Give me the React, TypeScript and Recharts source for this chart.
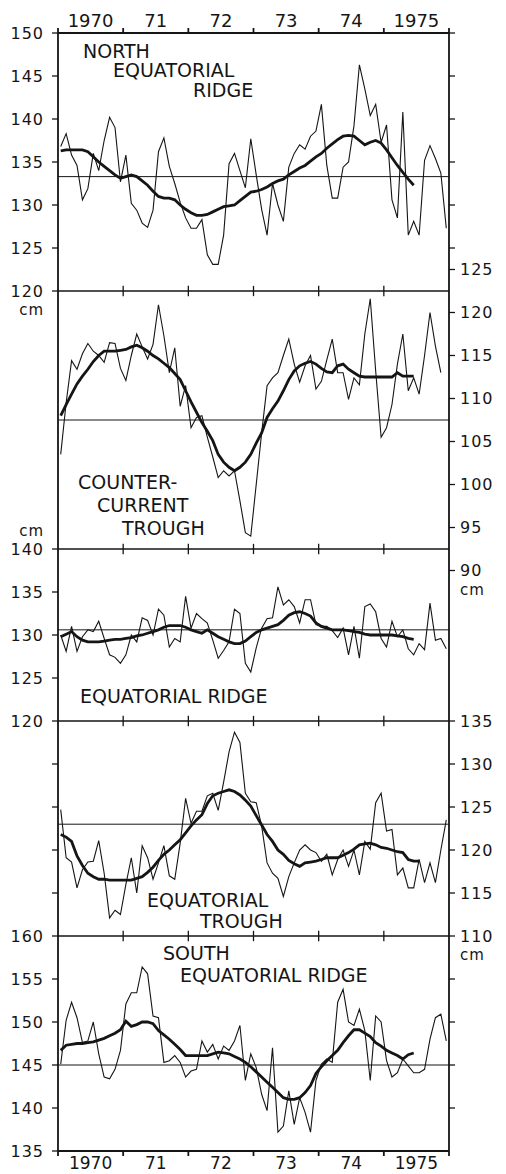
import React from 'react';
import { LineChart, Line, XAxis, YAxis, ReferenceLine } from 'recharts';

const W = 506;
const H = 1174;
const FONT = '"DejaVu Sans", Verdana, sans-serif';
const INK = '#151515';

// ---- time axis ----
const yearEdges = [1970, 1971, 1972, 1973, 1974, 1975, 1976];
const innerEdges = [1971, 1972, 1973, 1974, 1975];
const yearCenters = [1970.5, 1971.5, 1972.5, 1973.5, 1974.5, 1975.5];
const yearLabels = ['1970', '71', '72', '73', '74', '1975'];

// ---- North Equatorial Ridge (cm) ----
const nerMonthly = [
  136.8, 138.3, 135.8, 134.6, 130.6, 131.9, 136.0, 134.0, 137.5, 140.2, 139.0, 132.7,
  135.8, 130.2, 129.4, 127.9, 127.4, 129.4, 136.2, 137.8, 134.5, 132.5, 130.3, 128.5,
  127.3, 127.3, 128.3, 124.2, 123.1, 123.1, 126.5, 134.8, 136.0, 134.0, 132.0, 137.7,
  133.5, 129.5, 126.5, 132.5, 130.0, 128.1, 134.4, 136.0, 137.0, 136.5, 138.0, 138.6,
  141.7, 134.6, 130.8, 130.8, 134.4, 135.0, 139.2, 146.3, 143.5, 140.4, 141.7, 137.3,
  139.3, 130.6, 128.5, 140.8, 126.5, 128.1, 126.5, 135.2, 136.9, 135.4, 133.7, 127.3,
];
const nerSmooth = [
  136.3, 136.4, 136.4, 136.4, 136.4, 136.2, 135.6, 135.0, 134.5, 134.0, 133.5, 133.1,
  133.3, 133.5, 133.3, 132.8, 132.3, 131.6, 131.0, 130.8, 130.8, 130.6, 130.0, 129.5,
  129.1, 128.8, 128.8, 128.9, 129.2, 129.5, 129.8, 129.9, 130.0, 130.5, 131.0, 131.5,
  131.6, 131.8, 132.1, 132.5, 132.8, 133.0, 133.5, 133.9, 134.3, 134.6, 135.1, 135.6,
  136.0, 136.6, 137.1, 137.6, 138.0, 138.1, 138.0, 137.5, 137.0, 137.3, 137.5, 137.2,
  136.4, 135.5, 134.6, 133.8, 133.0, 132.3,
];

// ---- Countercurrent Trough (cm) ----
const cctMonthly = [
  103.5, 109.5, 114.4, 113.4, 115.2, 116.4, 115.5, 115.0, 114.2, 116.5, 116.4, 113.5,
  112.1, 115.0, 117.5, 116.0, 114.6, 116.3, 120.9, 117.3, 113.0, 115.9, 109.1, 111.5,
  106.6, 107.8, 108.0, 105.5, 103.2, 100.8, 101.6, 101.0, 101.6, 98.1, 94.4, 94.0,
  100.0, 106.0, 111.5, 112.4, 113.0, 115.0, 116.9, 114.0, 111.9, 113.8, 115.0, 111.1,
  112.0, 114.5, 116.9, 113.0, 113.0, 109.9, 112.4, 111.6, 117.5, 121.6, 113.2, 105.5,
  106.6, 109.3, 114.0, 117.5, 110.9, 112.4, 110.5, 115.0, 120.0, 116.1, 113.0, null,
];
const cctSmooth = [
  108.0, 109.3, 110.5, 111.7, 112.6, 113.4, 114.3, 115.0, 115.5, 115.5, 115.5, 115.6,
  115.7, 116.0, 116.2, 115.9, 115.5, 115.0, 114.6, 114.1, 113.6, 112.9, 112.2, 110.9,
  109.6, 108.4, 107.2, 106.2, 105.1, 103.5, 102.6, 102.0, 101.6, 102.0, 102.6, 103.5,
  104.8, 106.0, 107.8, 108.8, 109.7, 110.9, 112.2, 113.2, 113.8, 114.1, 114.3, 114.0,
  113.5, 113.1, 113.0, 113.8, 114.0, 113.4, 113.0, 112.6, 112.5, 112.5, 112.5, 112.5,
  112.5, 112.5, 113.0, 112.6, 112.6, 112.6,
];

// ---- Equatorial Ridge (cm) ----
const erMonthly = [
  130.0, 128.1, 131.0, 128.1, 129.8, 130.6, 130.4, 131.6, 129.6, 127.7, 127.4, 126.7,
  127.7, 130.0, 129.2, 132.0, 131.7, 130.0, 133.0, 132.3, 128.6, 129.6, 129.2, 134.5,
  130.8, 132.5, 131.9, 131.4, 129.4, 127.3, 128.2, 129.2, 133.0, 132.5, 126.7, 125.7,
  128.5, 130.8, 131.9, 132.0, 135.6, 133.5, 134.1, 133.3, 131.4, 134.1, 134.1, 131.2,
  131.0, 131.0, 130.5, 129.7, 130.8, 127.7, 131.0, 127.3, 133.3, 133.6, 132.7, 129.6,
  128.6, 131.6, 129.8, 130.6, 128.4, 127.7, 129.0, 128.3, 133.7, 129.4, 129.6, 128.4,
];
const erSmooth = [
  129.8, 130.1, 130.4, 129.8, 129.4, 129.2, 129.2, 129.2, 129.3, 129.4, 129.5, 129.5,
  129.6, 129.7, 129.9, 130.0, 130.2, 130.4, 130.6, 130.9, 131.1, 131.1, 131.1, 130.9,
  130.6, 130.4, 130.2, 130.6, 130.2, 129.8, 129.5, 129.2, 129.0, 129.0, 129.3, 129.8,
  130.3, 130.6, 130.8, 131.0, 131.2, 131.7, 132.3, 132.6, 132.7, 132.5, 132.2, 131.4,
  131.0, 130.8, 130.6, 130.6, 130.6, 130.5, 130.4, 130.3, 130.1, 130.0, 130.0, 130.0,
  130.0, 130.0, 129.9, 129.8, 129.6, 129.5,
];

// ---- Equatorial Trough (cm) ----
const etMonthly = [
  124.7, 119.1, 118.6, 115.6, 117.7, 118.6, 118.7, 121.1, 117.3, 112.1, 113.0, 112.5,
  116.0, 119.1, 115.0, 120.5, 119.1, 116.6, 118.5, 120.5, 117.0, 116.6, 120.8, 126.0,
  123.1, 124.5, 124.5, 126.3, 126.6, 124.6, 127.9, 131.4, 133.7, 132.5, 126.6, 125.6,
  125.5, 122.8, 118.5, 117.3, 116.7, 114.6, 116.9, 118.5, 120.0, 120.6, 120.0, 119.7,
  118.7, 119.5, 117.1, 118.9, 120.0, 118.1, 120.0, 117.1, 121.0, 120.1, 125.5, 126.6,
  122.2, 122.4, 117.1, 117.9, 115.6, 115.6, 118.9, 116.2, 118.5, 116.2, 120.0, 123.5,
];
const etSmooth = [
  121.8, 121.5, 121.0, 119.3, 118.2, 117.3, 116.9, 116.6, 116.6, 116.5, 116.5, 116.5,
  116.5, 116.5, 116.7, 116.9, 117.4, 118.0, 118.8, 119.5, 120.0, 120.6, 121.2, 122.0,
  122.8, 123.5, 124.1, 125.4, 126.3, 126.6, 126.8, 127.0, 126.8, 126.4, 125.8, 125.1,
  124.0, 122.9, 121.8, 121.0, 120.0, 119.5, 118.8, 118.4, 118.1, 118.5, 118.6, 118.7,
  118.9, 119.1, 119.1, 119.1, 119.4, 119.7, 120.1, 120.6, 120.7, 120.8, 120.6, 120.3,
  120.2, 120.0, 119.8, 119.7, 118.9, 118.7, 118.7,
];

// ---- South Equatorial Ridge (cm) ----
const serMonthly = [
  145.1, 150.2, 152.3, 150.5, 147.6, 147.8, 150.0, 146.3, 143.6, 143.4, 144.5, 146.7,
  152.1, 153.4, 153.4, 156.4, 155.6, 150.7, 150.5, 145.3, 145.5, 146.1, 145.3, 143.6,
  144.3, 144.5, 147.8, 146.5, 147.4, 145.7, 147.2, 146.7, 147.8, 149.6, 143.2, 146.3,
  144.7, 141.6, 139.7, 147.0, 137.2, 137.9, 142.0, 138.1, 141.2, 139.5, 137.2, 143.2,
  145.1, 145.7, 145.3, 152.3, 153.8, 150.0, 149.6, 151.5, 149.0, 143.2, 150.7, 150.0,
  145.5, 143.6, 144.1, 145.7, 144.9, 144.1, 144.1, 144.5, 148.0, 150.5, 150.9, 147.8,
];
const serSmooth = [
  146.7, 147.3, 147.4, 147.5, 147.5, 147.6, 147.7, 147.9, 148.1, 148.4, 148.7, 149.1,
  150.1, 149.5, 149.7, 150.0, 150.0, 149.8, 149.0, 148.5, 148.0, 147.4, 146.8, 146.1,
  146.1, 146.1, 146.1, 146.1, 146.3, 146.5, 146.4, 146.3, 146.0, 145.7, 145.3, 144.8,
  144.2, 143.6, 143.0, 142.4, 141.8, 141.2, 141.0, 141.0, 141.2, 141.8, 142.6, 144.0,
  144.8, 145.5, 146.1, 146.7, 147.6, 148.4, 149.1, 149.1, 148.7, 148.3, 147.6, 147.2,
  146.7, 146.4, 146.1, 145.7, 146.2, 146.4,
];

// ---- long-term means ----
const means = [133.3, 107.5, 130.6, 123.0, 145.0];

// ---- axis ticks ----
const nerTicks = [120, 125, 130, 135, 140, 145, 150];
const nerRightTicks = [125, 130, 135, 140, 145, 150];
const cctTicks = [90, 95, 100, 105, 110, 115, 120, 125];
const erTicks = [120, 125, 130, 135, 140];
const etTicks = [110, 115, 120, 125, 130, 135];
const etLeftTicks = [115, 120, 125, 130];
const serTicks = [135, 140, 145, 150, 155, 160];
const serRightTicks = [140, 145, 150, 155];

// vertical stacking of the five panels (cm span and top value of each)
const panelSpanCm = [30, 30, 20, 25, 25];
const panelTopValue = [150, 122.5, 140, 135, 160];
const TOTAL_CM = panelSpanCm.reduce((a, b) => a + b, 0);

function domainFor(k: number): [number, number] {
  const above = panelSpanCm.slice(0, k).reduce((a, b) => a + b, 0);
  const top = panelTopValue[k] + above;
  return [top - TOTAL_CM, top];
}

function makeYTick(labeled: boolean, cmBelow?: number, cmAbove?: number) {
  return (props: any) => {
    const { x, y, payload, textAnchor } = props;
    if (!labeled) return <g />;
    const v = payload.value;
    const common = {
      textAnchor,
      fontFamily: FONT,
      fill: INK,
      letterSpacing: 1,
    };
    return (
      <g>
        <text x={x} y={y} dy="0.36em" fontSize={16} {...common}>{v}</text>
        {v === cmBelow ? <text x={x} y={y + 19} dy="0.36em" fontSize={15} {...common}>cm</text> : null}
        {v === cmAbove ? <text x={x} y={y - 18} dy="0.36em" fontSize={15} {...common}>cm</text> : null}
      </g>
    );
  };
}

type PanelProps = {
  k: number;
  thin: (number | null)[];
  smooth: number[];
  mean: number;
  leftTicks: number[];
  leftLabeled: boolean;
  rightTicks: number[];
  rightLabeled: boolean;
  cmBelowLeft?: number;
  cmAboveLeft?: number;
  cmBelowRight?: number;
  frame?: boolean;
  yearText?: boolean;
};

function PanelChart(p: PanelProps) {
  const data = p.thin.map((v, i) => ({
    t: 1970 + (i + 0.5) / 12,
    thin: v,
    smooth: i < p.smooth.length ? p.smooth[i] : null,
  }));
  const dom = domainFor(p.k);
  const sep = p.k < panelSpanCm.length - 1 ? panelTopValue[p.k] - panelSpanCm[p.k] : null;
  const yearFmt = (v: number) => yearLabels[yearCenters.indexOf(v)] ?? '';
  const xCommon = {
    type: 'number' as const,
    dataKey: 't',
    domain: [1970, 1976] as [number, number],
    allowDataOverflow: true,
    interval: 0 as const,
  };
  const frameLine = { stroke: INK, strokeWidth: 1.8 };
  return (
    <div style={{ position: 'absolute', left: 0, top: 0 }}>
      <LineChart width={W} height={H} data={data} margin={{ top: 0, right: 0, bottom: 0, left: 0 }}>
        {p.frame ? (
          <XAxis xAxisId="t" orientation="top" height={33} {...xCommon} ticks={yearEdges}
            tickSize={5} tickLine={frameLine} axisLine={frameLine} tickFormatter={() => ''} />
        ) : p.yearText ? (
          <XAxis xAxisId="t" orientation="top" height={33} {...xCommon} ticks={yearCenters}
            tickSize={0} tickMargin={6} tickLine={false} axisLine={false} tickFormatter={yearFmt}
            tick={{ fontSize: 18, fontFamily: FONT, fill: INK }} />
        ) : (
          <XAxis xAxisId="t" orientation="top" height={33} {...xCommon} tick={false} tickLine={false} axisLine={false} />
        )}
        {p.frame ? (
          <XAxis xAxisId="b" orientation="bottom" height={23} {...xCommon} ticks={yearEdges}
            tickSize={5} tickLine={frameLine} axisLine={frameLine} tickFormatter={() => ''} />
        ) : p.yearText ? (
          <XAxis xAxisId="b" orientation="bottom" height={23} {...xCommon} ticks={yearCenters}
            tickSize={0} tickMargin={6} tickLine={false} axisLine={false} tickFormatter={yearFmt}
            tick={{ fontSize: 17, fontFamily: FONT, fill: INK }} />
        ) : (
          <XAxis xAxisId="b" orientation="bottom" height={23} {...xCommon} tick={false} tickLine={false} axisLine={false} />
        )}
        <YAxis yAxisId="l" orientation="left" type="number" width={58} domain={dom} allowDataOverflow
          ticks={p.leftTicks} interval={0} tickSize={6} tickMargin={8}
          tickLine={p.leftTicks.length ? { stroke: INK, strokeWidth: 1.3 } : false}
          axisLine={p.frame ? frameLine : false}
          tick={makeYTick(p.leftLabeled, p.cmBelowLeft, p.cmAboveLeft)} />
        <YAxis yAxisId="r" orientation="right" type="number" width={57} domain={dom} allowDataOverflow
          ticks={p.rightTicks} interval={0} tickSize={6} tickMargin={5}
          tickLine={p.rightTicks.length ? { stroke: INK, strokeWidth: 1.3 } : false}
          axisLine={p.frame ? frameLine : false}
          tick={makeYTick(p.rightLabeled, p.cmBelowRight)} />
        <ReferenceLine xAxisId="b" yAxisId="l" y={p.mean} stroke={INK} strokeWidth={1} />
        {sep !== null ? (
          <ReferenceLine xAxisId="b" yAxisId="l" y={sep} stroke={INK} strokeWidth={1.6} />
        ) : null}
        {sep !== null
          ? innerEdges.map((e) => (
              <ReferenceLine key={e} xAxisId="b" yAxisId="l"
                segment={[{ x: e, y: sep - 0.6 }, { x: e, y: sep + 0.6 }]}
                stroke={INK} strokeWidth={1.3} />
            ))
          : null}
        <Line xAxisId="b" yAxisId="l" type="linear" dataKey="thin" stroke={INK} strokeWidth={1.1}
          dot={false} activeDot={false} isAnimationActive={false} />
        <Line xAxisId="b" yAxisId="l" type="linear" dataKey="smooth" stroke={INK} strokeWidth={2.8}
          dot={false} activeDot={false} isAnimationActive={false} />
      </LineChart>
    </div>
  );
}

const titleStyle = { fontSize: 19, fontFamily: FONT, fill: INK } as const;

export default function App() {
  return (
    <div style={{ position: 'absolute', left: 0, top: 0, width: W, height: H, background: '#fff', overflow: 'hidden' }}>
      <PanelChart k={0} thin={nerMonthly} smooth={nerSmooth} mean={means[0]}
        leftTicks={nerTicks} leftLabeled rightTicks={nerRightTicks} rightLabeled={false}
        cmBelowLeft={120} frame />
      <PanelChart k={1} thin={cctMonthly} smooth={cctSmooth} mean={means[1]}
        leftTicks={[]} leftLabeled={false} rightTicks={cctTicks} rightLabeled
        cmBelowRight={90} yearText />
      <PanelChart k={2} thin={erMonthly} smooth={erSmooth} mean={means[2]}
        leftTicks={erTicks} leftLabeled rightTicks={[]} rightLabeled={false}
        cmAboveLeft={140} />
      <PanelChart k={3} thin={etMonthly} smooth={etSmooth} mean={means[3]}
        leftTicks={etLeftTicks} leftLabeled={false} rightTicks={etTicks} rightLabeled
        cmBelowRight={110} />
      <PanelChart k={4} thin={serMonthly} smooth={serSmooth} mean={means[4]}
        leftTicks={serTicks} leftLabeled rightTicks={serRightTicks} rightLabeled={false} />
      <svg width={W} height={H} style={{ position: 'absolute', left: 0, top: 0, pointerEvents: 'none' }}>
        <text x={83} y={58} {...titleStyle}>NORTH</text>
        <text x={113} y={77} {...titleStyle}>EQUATORIAL</text>
        <text x={193} y={97} {...titleStyle}>RIDGE</text>
        <text x={78} y={489} {...titleStyle}>COUNTER-</text>
        <text x={97} y={512} {...titleStyle}>CURRENT</text>
        <text x={122} y={535} {...titleStyle}>TROUGH</text>
        <text x={80} y={703} {...titleStyle}>EQUATORIAL  RIDGE</text>
        <text x={147} y={907} {...titleStyle}>EQUATORIAL</text>
        <text x={200} y={928} {...titleStyle}>TROUGH</text>
        <text x={163} y={960} {...titleStyle}>SOUTH</text>
        <text x={180} y={982} {...titleStyle}>EQUATORIAL  RIDGE</text>
      </svg>
    </div>
  );
}
